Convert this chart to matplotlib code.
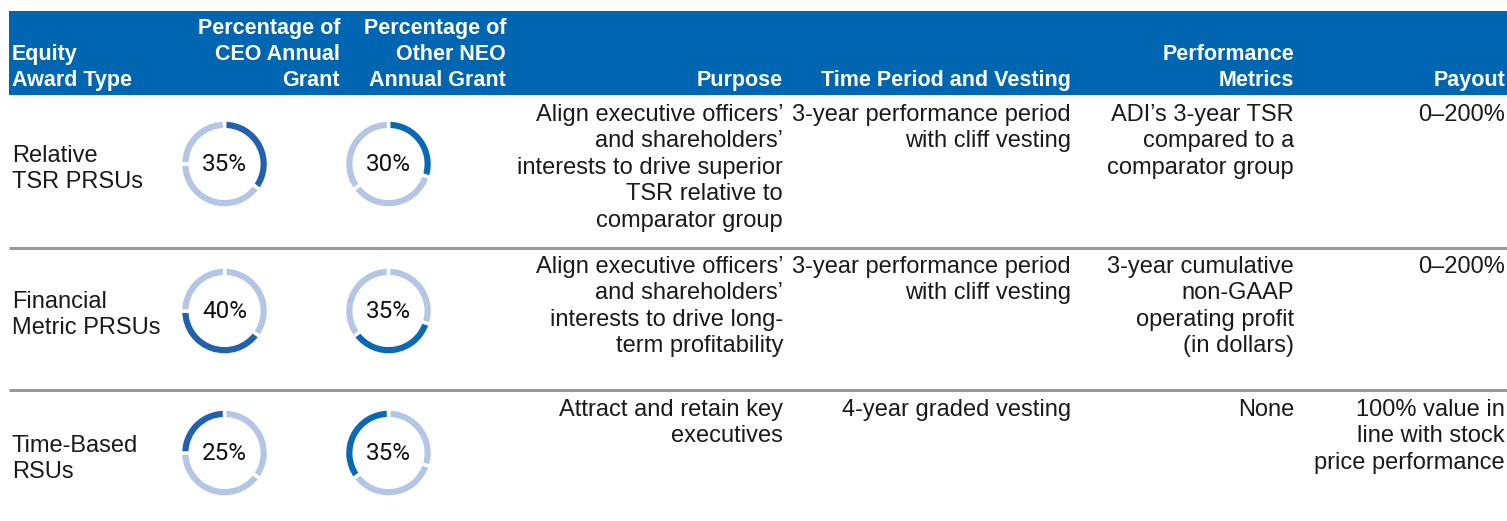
import matplotlib
matplotlib.use('Agg')
import matplotlib.pyplot as plt

# ---- data ----
award_types = ["Relative\nTSR PRSUs", "Financial\nMetric PRSUs", "Time-Based\nRSUs"]
ceo_pct = [35, 40, 25]
neo_pct = [30, 35, 35]
purpose = ["Align executive officers\u2019\nand shareholders\u2019\ninterests to drive superior\nTSR relative to\ncomparator group",
           "Align executive officers\u2019\nand shareholders\u2019\ninterests to drive long-\nterm profitability",
           "Attract and retain key\nexecutives"]
time_period = ["3-year performance period\nwith cliff vesting",
               "3-year performance period\nwith cliff vesting",
               "4-year graded vesting"]
metrics = ["ADI\u2019s 3-year TSR\ncompared to a\ncomparator group",
           "3-year cumulative\nnon-GAAP\noperating profit\n(in dollars)",
           "None"]
payout = ["0\u2013200%", "0\u2013200%", "100% value in\nline with stock\nprice performance"]
headers = ["Equity\nAward Type", "Percentage of\nCEO Annual\nGrant", "Percentage of\nOther NEO\nAnnual Grant",
           "Purpose", "Time Period and Vesting", "Performance\nMetrics", "Payout"]

# ---- style ----
W, H = 1507, 521
BLUE = '#0066b2'
CEO_DARK = '#2062b0'
NEO_DARK = '#0a69b5'
LIGHT = '#b3c6e6'
GRID = '#999999'
FONT = 'Liberation Sans'
FS = 17
HFS = 15.5

fig = plt.figure(figsize=(W / 100, H / 100), dpi=100)
ax = fig.add_axes([0, 0, 1, 1])
ax.set_xlim(0, W)
ax.set_ylim(H, 0)
ax.axis('off')

# header band
ax.add_patch(plt.Rectangle((9, 11), W - 9, 84, color=BLUE, lw=0))
head_x = [12, 340, 506, 783, 1071, 1294, 1505]
head_ha = ['left'] + ['right'] * 6
for txt, x, ha in zip(headers, head_x, head_ha):
    ax.text(x, 91, txt, ha=ha, va='bottom', color='white', fontsize=HFS,
            fontweight='bold', family=FONT, linespacing=1.3)

# row separators
for y in [248, 390]:
    ax.plot([9, W], [y, y], color=GRID, lw=2.2, solid_capstyle='butt')

row_top = [104, 256, 399]
label_y = [169, 315, 459]
donut_y = [164, 311, 453]
donut_x = [224.5, 388.5]
R = 44

for i in range(3):
    ax.text(12, label_y[i], award_types[i], ha='left', va='center', fontsize=FS,
            family=FONT, linespacing=1.26, color='#1a1a1a')
    for col, x in zip([purpose, time_period, metrics, payout], [783, 1071, 1294, 1505]):
        ax.text(x, row_top[i], col[i], ha='right', va='top', fontsize=FS,
                family=FONT, linespacing=1.26, color='#1a1a1a')

    for vals, dark, cx in [(ceo_pct, CEO_DARK, donut_x[0]), (neo_pct, NEO_DARK, donut_x[1])]:
        dax = fig.add_axes([(cx - R) / W, 1 - (donut_y[i] + R) / H, 2 * R / W, 2 * R / H])
        colors = [dark if j == i else LIGHT for j in range(3)]
        dax.pie(vals, colors=colors, startangle=90, counterclock=False, radius=1,
                wedgeprops=dict(width=0.22, edgecolor='white', linewidth=2.5))
        dax.set_xlim(-1, 1)
        dax.set_ylim(-1, 1)
        dax.set_aspect('equal')
        dax.text(0, -0.02, f"{vals[i]}%", ha='center', va='center', fontsize=17.5,
                 family='Roboto', fontweight='normal', color='#111111')

fig.savefig('out.png', dpi=100)
